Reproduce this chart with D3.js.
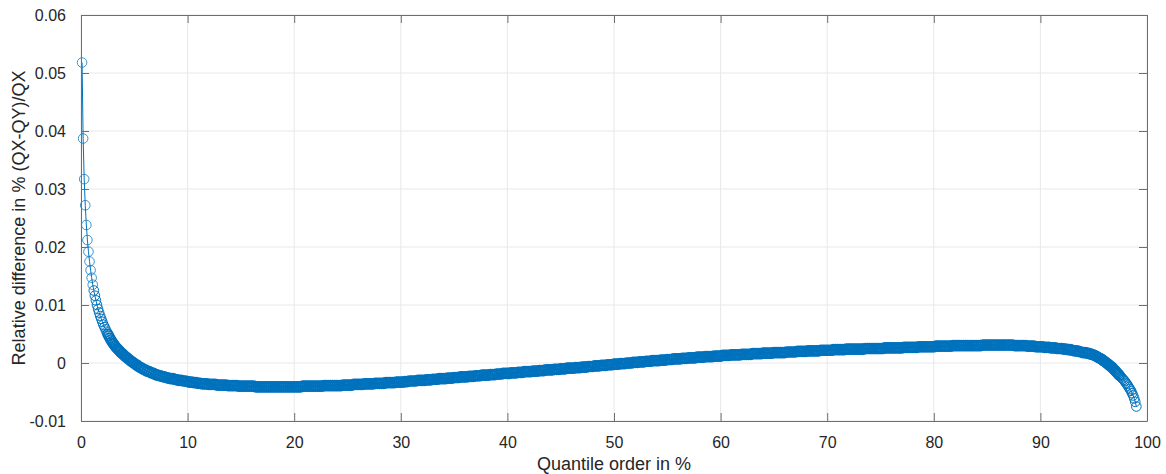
<!DOCTYPE html>
<html>
<head>
<meta charset="utf-8">
<script src="https://cdn.jsdelivr.net/npm/d3@7"></script>
<style>
  body { margin: 0; background: #fff; }
  svg text { font-family: "Liberation Sans", Arial, Helvetica, sans-serif; fill: #262626; }
</style>
</head>
<body>
<div id="chart"></div>
<script>

// Quantile orders in % (same grid as the original p vector, three segments)
var headOrder = d3.range(1, 51).map(i => i / 10);      // 0.1 .. 5.0
var bodyOrder = d3.range(26, 476).map(i => i / 5);     // 5.2 .. 95.0
var tailOrder = d3.range(951, 991).map(i => i / 10);   // 95.1 .. 99.0

// Relative difference (QX-QY)/QX
var headDiff = [
  0.0518, 0.0387, 0.0317, 0.0272, 0.0238, 0.0212, 0.0192, 0.0175, 0.0160, 0.0147,
  0.0135, 0.0125, 0.0116, 0.0108, 0.0100, 0.0093, 0.0087, 0.0081, 0.0076, 0.0071,
  0.0066, 0.0062, 0.0058, 0.0054, 0.0050, 0.0047, 0.0043, 0.0040, 0.0037, 0.0034,
  0.0032, 0.0029, 0.0027, 0.0025, 0.0023, 0.0021, 0.0019, 0.0017, 0.0016, 0.0014,
  0.0012, 0.0011, 0.0009, 0.0008, 0.0006, 0.0005, 0.0003, 0.0002, 0.0001, -0.0001
];

var bodyDiff = [
  -0.0003,-0.0006,-0.0008,-0.0010,-0.0012,
  -0.0014,-0.0015,-0.0017,-0.0018,-0.0020,
  -0.0021,-0.0022,-0.0023,-0.0024,-0.0025,
  -0.0026,-0.0027,-0.0027,-0.0028,-0.0029,
  -0.0030,-0.0030,-0.0031,-0.0031,-0.0032,
  -0.0033,-0.0033,-0.0034,-0.0034,-0.0035,
  -0.0035,-0.0036,-0.0036,-0.0036,-0.0037,
  -0.0037,-0.0037,-0.0037,-0.0038,-0.0038,
  -0.0038,-0.0038,-0.0038,-0.0039,-0.0039,
  -0.0039,-0.0039,-0.0039,-0.0040,-0.0040,
  -0.0040,-0.0040,-0.0040,-0.0040,-0.0040,
  -0.0040,-0.0041,-0.0041,-0.0041,-0.0041,
  -0.0041,-0.0041,-0.0041,-0.0041,-0.0041,
  -0.0041,-0.0041,-0.0041,-0.0041,-0.0041,
  -0.0041,-0.0041,-0.0041,-0.0041,-0.0041,
  -0.0041,-0.0041,-0.0041,-0.0040,-0.0040,
  -0.0040,-0.0040,-0.0040,-0.0040,-0.0040,
  -0.0040,-0.0040,-0.0040,-0.0039,-0.0039,
  -0.0039,-0.0039,-0.0039,-0.0039,-0.0039,
  -0.0039,-0.0039,-0.0038,-0.0038,-0.0038,
  -0.0038,-0.0038,-0.0037,-0.0037,-0.0037,
  -0.0037,-0.0037,-0.0036,-0.0036,-0.0036,
  -0.0036,-0.0036,-0.0035,-0.0035,-0.0035,
  -0.0035,-0.0035,-0.0034,-0.0034,-0.0034,
  -0.0034,-0.0034,-0.0033,-0.0033,-0.0033,
  -0.0033,-0.0032,-0.0032,-0.0031,-0.0031,
  -0.0031,-0.0031,-0.0030,-0.0030,-0.0030,
  -0.0030,-0.0029,-0.0029,-0.0029,-0.0028,
  -0.0028,-0.0028,-0.0027,-0.0027,-0.0027,
  -0.0027,-0.0026,-0.0026,-0.0026,-0.0025,
  -0.0025,-0.0025,-0.0024,-0.0024,-0.0024,
  -0.0024,-0.0023,-0.0023,-0.0023,-0.0022,
  -0.0022,-0.0022,-0.0021,-0.0021,-0.0021,
  -0.0021,-0.0020,-0.0020,-0.0020,-0.0019,
  -0.0019,-0.0019,-0.0018,-0.0018,-0.0018,
  -0.0018,-0.0017,-0.0017,-0.0017,-0.0016,
  -0.0016,-0.0016,-0.0015,-0.0015,-0.0015,
  -0.0015,-0.0014,-0.0014,-0.0014,-0.0013,
  -0.0013,-0.0013,-0.0012,-0.0012,-0.0012,
  -0.0012,-0.0011,-0.0011,-0.0011,-0.0010,
  -0.0010,-0.0010,-0.0009,-0.0009,-0.0009,
  -0.0009,-0.0008,-0.0008,-0.0008,-0.0007,
  -0.0007,-0.0007,-0.0006,-0.0006,-0.0006,
  -0.0005,-0.0005,-0.0005,-0.0004,-0.0004,
  -0.0004,-0.0003,-0.0003,-0.0003,-0.0002,
  -0.0002,-0.0002,-0.0001,-0.0001,-0.0001,
  0.0000, 0.0000, 0.0000, 0.0001, 0.0001,
  0.0001, 0.0002, 0.0002, 0.0002, 0.0003,
  0.0003, 0.0003, 0.0004, 0.0004, 0.0004,
  0.0004, 0.0005, 0.0005, 0.0005, 0.0006,
  0.0006, 0.0006, 0.0007, 0.0007, 0.0007,
  0.0007, 0.0008, 0.0008, 0.0008, 0.0009,
  0.0009, 0.0009, 0.0009, 0.0010, 0.0010,
  0.0010, 0.0010, 0.0011, 0.0011, 0.0011,
  0.0011, 0.0012, 0.0012, 0.0012, 0.0012,
  0.0013, 0.0013, 0.0013, 0.0013, 0.0014,
  0.0014, 0.0014, 0.0014, 0.0014, 0.0015,
  0.0015, 0.0015, 0.0015, 0.0015, 0.0016,
  0.0016, 0.0016, 0.0016, 0.0016, 0.0017,
  0.0017, 0.0017, 0.0017, 0.0017, 0.0018,
  0.0018, 0.0018, 0.0018, 0.0018, 0.0018,
  0.0019, 0.0019, 0.0019, 0.0019, 0.0019,
  0.0020, 0.0020, 0.0020, 0.0020, 0.0020,
  0.0021, 0.0021, 0.0021, 0.0021, 0.0021,
  0.0021, 0.0022, 0.0022, 0.0022, 0.0022,
  0.0022, 0.0022, 0.0023, 0.0023, 0.0023,
  0.0023, 0.0023, 0.0023, 0.0024, 0.0024,
  0.0024, 0.0024, 0.0024, 0.0024, 0.0024,
  0.0024, 0.0024, 0.0025, 0.0025, 0.0025,
  0.0025, 0.0025, 0.0025, 0.0025, 0.0025,
  0.0025, 0.0026, 0.0026, 0.0026, 0.0026,
  0.0026, 0.0026, 0.0026, 0.0026, 0.0026,
  0.0027, 0.0027, 0.0027, 0.0027, 0.0027,
  0.0027, 0.0027, 0.0028, 0.0028, 0.0028,
  0.0028, 0.0028, 0.0028, 0.0028, 0.0028,
  0.0029, 0.0029, 0.0029, 0.0029, 0.0029,
  0.0029, 0.0029, 0.0029, 0.0030, 0.0030,
  0.0030, 0.0030, 0.0030, 0.0030, 0.0030,
  0.0030, 0.0030, 0.0030, 0.0030, 0.0030,
  0.0030, 0.0030, 0.0031, 0.0031, 0.0031,
  0.0031, 0.0031, 0.0031, 0.0031, 0.0031,
  0.0031, 0.0031, 0.0031, 0.0031, 0.0031,
  0.0031, 0.0031, 0.0030, 0.0030, 0.0030,
  0.0030, 0.0030, 0.0030, 0.0029, 0.0029,
  0.0029, 0.0029, 0.0028, 0.0028, 0.0028,
  0.0028, 0.0027, 0.0027, 0.0027, 0.0026,
  0.0026, 0.0026, 0.0025, 0.0025, 0.0025,
  0.0024, 0.0024, 0.0023, 0.0023, 0.0022,
  0.0021, 0.0021, 0.0020, 0.0019, 0.0018,
  0.0018, 0.0017, 0.0016, 0.0015, 0.0014
];

var tailDiff = [
  0.0013, 0.0012, 0.0011, 0.0010, 0.0009, 0.0008, 0.0007, 0.0006, 0.0004, 0.0003,
  0.0002, 0.0000, -0.0001, -0.0003, -0.0004, -0.0006, -0.0007, -0.0009, -0.0011, -0.0013,
  -0.0015, -0.0017, -0.0019, -0.0021, -0.0023, -0.0025, -0.0027, -0.0029, -0.0031, -0.0034,
  -0.0036, -0.0039, -0.0042, -0.0045, -0.0048, -0.0052, -0.0056, -0.0061, -0.0067, -0.0075
];

// Axis ticks
var xTicks = [0, 10, 20, 30, 40, 50, 60, 70, 80, 90, 100];
var yTicks = [-0.01, 0, 0.01, 0.02, 0.03, 0.04, 0.05, 0.06];
var yTickLabels = ["-0.01", "0", "0.01", "0.02", "0.03", "0.04", "0.05", "0.06"];

var xLabel = "Quantile order in %";
var yLabel = "Relative difference in % (QX-QY)/QX";


// join the segments into one series of points
var points = [];
[[headOrder, headDiff], [bodyOrder, bodyDiff], [tailOrder, tailDiff]].forEach(function(seg) {
    seg[0].forEach(function(p, i) {
        points.push({order: p, diff: seg[1][i]});
    });
});


var margin = {top: 15, right: 19, bottom: 53, left: 81},
    width = 1166 - margin.left - margin.right,
    height = 474 - margin.top - margin.bottom;

var svg = d3.select("#chart").append("svg")
    .attr("width", width + margin.left + margin.right)
    .attr("height", height + margin.top + margin.bottom)
    .append("g")
    .attr("transform", "translate(" + margin.left + "," + margin.top + ")");

var x = d3.scaleLinear().domain([0, 100]).range([0, width]);
var y = d3.scaleLinear().domain([-0.01, 0.06]).range([height, 0]);

var axisColor = "#6e6e6e";
var gridColor = "#e8e8e8";
var lineColor = "#0072BD";

// grid
svg.append("g")
    .selectAll("line.vgrid")
    .data(xTicks)
    .enter().append("line")
    .attr("x1", d => x(d)).attr("x2", d => x(d))
    .attr("y1", 0).attr("y2", height)
    .attr("stroke", gridColor);

svg.append("g")
    .selectAll("line.hgrid")
    .data(yTicks)
    .enter().append("line")
    .attr("x1", 0).attr("x2", width)
    .attr("y1", d => y(d)).attr("y2", d => y(d))
    .attr("stroke", gridColor);

// data: line + circle markers
var line = d3.line()
    .x(d => x(d.order))
    .y(d => y(d.diff));

svg.append("path")
    .datum(points)
    .attr("fill", "none")
    .attr("stroke", lineColor)
    .attr("stroke-width", 1)
    .attr("d", line);

// marker stroke: denser part of the curve looks like a solid band
function markerWidth(d) {
    if (d.order > 5 && d.order < 95) return 2.1;
    if (d.order >= 2.5 && d.order <= 5) return 1.6;
    if (d.order >= 95 && d.order < 97.5) return 1.6;
    return 1;
}

svg.append("g")
    .selectAll("circle")
    .data(points)
    .enter().append("circle")
    .attr("cx", d => x(d.order))
    .attr("cy", d => y(d.diff))
    .attr("r", 4.8)
    .attr("fill", "none")
    .attr("stroke", lineColor)
    .attr("stroke-opacity", d => d.order < 1.2 ? 0.75 : 1)
    .attr("stroke-width", markerWidth);

// axes (ticks point inward, MATLAB style with box)
var xAxis = d3.axisBottom(x).tickValues(xTicks).tickSizeInner(-8).tickSizeOuter(0).tickPadding(16);
var yAxis = d3.axisLeft(y).tickValues(yTicks).tickSizeInner(-8).tickSizeOuter(0).tickPadding(15)
    .tickFormat((d, i) => yTickLabels[i]);

var gx = svg.append("g")
    .attr("transform", "translate(0," + height + ")")
    .call(xAxis);
var gy = svg.append("g").call(yAxis);

var gTop = svg.append("g").call(d3.axisTop(x).tickValues(xTicks).tickSizeInner(-8).tickSizeOuter(0).tickFormat(""));
var gRight = svg.append("g").attr("transform", "translate(" + width + ",0)")
    .call(d3.axisRight(y).tickValues(yTicks).tickSizeInner(-8).tickSizeOuter(0).tickFormat(""));

[gx, gy, gTop, gRight].forEach(function(g) {
    g.select(".domain").attr("stroke", axisColor);
    g.selectAll(".tick line").attr("stroke", axisColor);
    g.selectAll(".tick text")
        .attr("font-size", 16)
        .attr("fill", "#262626")
        .style("font-family", "\"Liberation Sans\", Arial, sans-serif");
});

// axis titles
svg.append("text")
    .attr("x", width / 2)
    .attr("y", height + 49)
    .attr("text-anchor", "middle")
    .attr("font-size", 18)
    .text(xLabel);

svg.append("text")
    .attr("transform", "translate(" + (-56) + "," + (height / 2) + ") rotate(-90)")
    .attr("text-anchor", "middle")
    .attr("font-size", 18)
    .text(yLabel);

</script>
</body>
</html>
